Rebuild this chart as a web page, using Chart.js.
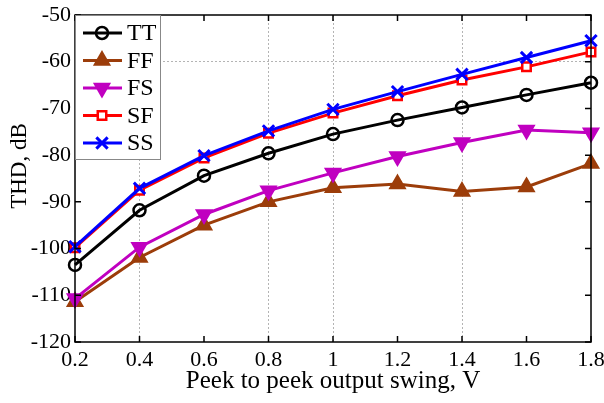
<!DOCTYPE html>
<html>
<head>
<meta charset="utf-8">
<script src="https://cdn.jsdelivr.net/npm/chart.js@4/dist/chart.umd.min.js"></script>
<style>
  html, body { margin: 0; padding: 0; background: #fff; }
  #wrap { width: 604px; height: 403px; }
</style>
</head>
<body>
<div id="wrap"><canvas id="thdChart" width="604" height="403"></canvas></div>
<script>
// swing values (V)
const swingLabels = ['0.2', '0.4', '0.6', '0.8', '1', '1.2', '1.4', '1.6', '1.8'];
const yTicks = [-50, -60, -70, -80, -90, -100, -110, -120];

// THD, dB per process corner
const thdTT = [-103.5, -91.8, -84.4, -79.6, -75.5, -72.5, -69.8, -67.1, -64.5];
const thdFF = [-111.4, -101.9, -95.0, -90.0, -87.0, -86.2, -87.8, -86.8, -81.8];
const thdFS = [-110.7, -99.7, -92.7, -87.6, -83.8, -80.3, -77.3, -74.6, -75.2];
const thdSF = [-99.8, -87.5, -80.6, -75.3, -71.0, -67.3, -63.9, -61.1, -57.9];
const thdSS = [-99.6, -87.1, -80.1, -74.8, -70.2, -66.4, -62.7, -59.1, -55.5];

// grid lines that show in the original figure
const xGridShown = ['0.4', '0.8', '1', '1.4'];
const yGridShown = [-60];

const serif = 'Liberation Serif';
const gridGray = '#b4b4b4';

const mk = (label, data, color, style, extra) => Object.assign({
  label: label,
  data: data,
  borderColor: color,
  backgroundColor: color,
  pointBorderColor: color,
  pointBackgroundColor: color,
  pointStyle: style,
  pointRadius: 7,
  pointBorderWidth: 2.5,
  borderWidth: 3,
  tension: 0,
  fill: false
}, extra || {});

const datasets = [
  mk('TT', thdTT, '#000000', 'circle', { pointBackgroundColor: 'rgba(255,255,255,0)', pointRadius: 6, order: 4 }),
  mk('FF', thdFF, '#9c3d0a', 'triangle', { pointRadius: 8, order: 3 }),
  mk('FS', thdFS, '#c000c0', 'triangle', { pointRotation: 180, pointRadius: 8, order: 2 }),
  mk('SF', thdSF, '#ff0000', 'rect', { pointBackgroundColor: '#ffffff', pointRadius: 6, order: 1 }),
  mk('SS', thdSS, '#0000ff', 'crossRot', { pointRadius: 8, pointBorderWidth: 3, order: 0 })
];

// frame, inward ticks, y title and the boxed legend
const framePlugin = {
  id: 'frame',
  afterDraw(chart) {
    const { ctx, chartArea: a, scales } = chart;
    ctx.save();
    ctx.strokeStyle = '#000';
    ctx.lineWidth = 1.5;
    ctx.setLineDash([]);
    ctx.strokeRect(a.left, a.top, a.right - a.left, a.bottom - a.top);
    ctx.beginPath();
    swingLabels.forEach((_, i) => {
      const x = scales.x.getPixelForValue(i);
      ctx.moveTo(x, a.bottom); ctx.lineTo(x, a.bottom - 6);
      ctx.moveTo(x, a.top); ctx.lineTo(x, a.top + 6);
    });
    yTicks.forEach(v => {
      const y = scales.y.getPixelForValue(v);
      ctx.moveTo(a.left, y); ctx.lineTo(a.left + 6, y);
      ctx.moveTo(a.right, y); ctx.lineTo(a.right - 6, y);
    });
    ctx.stroke();

    // y axis title, sits a bit above the middle in the original
    ctx.save();
    ctx.translate(20, 166);
    ctx.rotate(-Math.PI / 2);
    ctx.font = '23px "' + serif + '"';
    ctx.fillStyle = '#000';
    ctx.textAlign = 'center';
    ctx.textBaseline = 'middle';
    ctx.fillText('THD, dB', 0, 0);
    ctx.restore();

    // legend box
    const bx = a.left, by = a.top, bw = 85, bh = 144;
    ctx.fillStyle = '#fff';
    ctx.fillRect(bx, by, bw, bh);
    ctx.strokeStyle = '#888';
    ctx.lineWidth = 1;
    ctx.strokeRect(bx + 0.5, by + 0.5, bw, bh);
    ctx.font = '24px "' + serif + '"';
    ctx.textBaseline = 'middle';
    chart.data.datasets.forEach((ds, i) => {
      const y = by + 18 + i * 27.5;
      ctx.strokeStyle = ds.borderColor;
      ctx.lineWidth = 3;
      ctx.beginPath();
      ctx.moveTo(bx + 8, y); ctx.lineTo(bx + 47, y);
      ctx.stroke();
      ctx.lineWidth = ds.pointBorderWidth;
      ctx.fillStyle = ds.pointBackgroundColor;
      Chart.helpers.drawPoint(ctx, {
        pointStyle: ds.pointStyle,
        rotation: ds.pointRotation || 0,
        radius: ds.pointRadius,
        borderWidth: ds.pointBorderWidth
      }, bx + 27, y);
      ctx.fillStyle = '#000';
      ctx.fillText(ds.label, bx + 52, y + 1);
    });
    ctx.restore();
  }
};

new Chart(document.getElementById('thdChart'), {
  type: 'line',
  data: { labels: swingLabels, datasets: datasets },
  plugins: [framePlugin],
  options: {
    responsive: false,
    animation: false,
    layout: { padding: { left: 0, top: 15, right: 13, bottom: 0 } },
    plugins: { legend: { display: false }, tooltip: { enabled: false } },
    scales: {
      x: {
        type: 'category',
        offset: false,
        grid: {
          color: c => xGridShown.includes(swingLabels[c.index]) ? gridGray : 'rgba(0,0,0,0)',
          lineWidth: 1, drawTicks: false
        },
        border: { display: false, dash: [2, 2] },
        ticks: { color: '#000', padding: 5, maxRotation: 0, font: { family: serif, size: 22 } },
        title: { display: true, text: 'Peek to peek output swing, V', color: '#000', padding: { top: 0, bottom: 7 }, font: { family: serif, size: 25 } },
        afterFit(scale) { scale.height = 61; scale.paddingLeft = 0; scale.paddingRight = 0; }
      },
      y: {
        min: -120,
        max: -50,
        afterBuildTicks(scale) { scale.ticks = yTicks.map(v => ({ value: v })); },
        grid: {
          color: c => c.tick && yGridShown.includes(c.tick.value) ? gridGray : 'rgba(0,0,0,0)',
          lineWidth: 1, drawTicks: false
        },
        border: { display: false, dash: [2, 2] },
        ticks: { color: '#000', padding: 4, font: { family: serif, size: 22 } },
        title: { display: false },
        afterFit(scale) { scale.width = 75; scale.paddingTop = 0; scale.paddingBottom = 0; }
      }
    }
  }
});
</script>
</body>
</html>
